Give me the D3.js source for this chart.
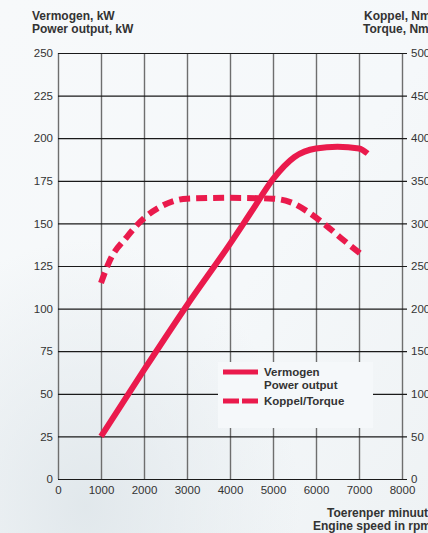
<html lang="en">
<head>
<script src="https://cdnjs.cloudflare.com/ajax/libs/d3/7.7.0/d3.min.js"></script>
<style>
html, body {
  margin: 0;
  padding: 0;
  font-family: 'Liberation Sans', Arial, sans-serif;
  background: #f4f7f9;
  overflow: hidden;
}
</style>
</head>
<body>
  <svg width="428" height="533"></svg>
</body>
<script>
// rpm / kW
const powerRpm = [1000, 2000, 3000, 4000, 4500, 5000, 5500, 6000, 6500, 7000, 7200];
const powerKw  = [25, 64, 102, 138, 157, 176, 189, 194, 195, 194, 191];

// rpm / Nm
const torqueRpm = [1000, 1200, 1600, 2000, 2400, 3000, 4000, 5000, 5400, 5800, 6200, 6600, 7100];
const torqueNm  = [230, 256, 284, 306, 320, 329, 330, 329, 325, 314, 299, 282, 262];

const rpmTicks = [0, 1000, 2000, 3000, 4000, 5000, 6000, 7000, 8000];
const kwTicks = [0, 25, 50, 75, 100, 125, 150, 175, 200, 225, 250];
const nmTicks = [0, 50, 100, 150, 200, 250, 300, 350, 400, 450, 500];

const red = '#ea1a4c';
const svg = d3.select('svg');

const plotLeft = 58, plotRight = 402, plotTop = 53, plotBottom = 479;

const x = d3.scaleLinear().domain([0, 8000]).range([plotLeft, plotRight]);
const yP = d3.scaleLinear().domain([0, 250]).range([plotBottom, plotTop]);
const yT = d3.scaleLinear().domain([0, 500]).range([plotBottom, plotTop]);

// background wash
const defs = svg.append('defs');
const grad = defs.append('linearGradient').attr('id', 'bg')
  .attr('x1', 0).attr('y1', 0).attr('x2', 1).attr('y2', 1);
grad.append('stop').attr('offset', '0%').attr('stop-color', '#f7f9fa');
grad.append('stop').attr('offset', '55%').attr('stop-color', '#f5f8fa');
grad.append('stop').attr('offset', '100%').attr('stop-color', '#eef2f4');
const glow = defs.append('radialGradient').attr('id', 'glow')
  .attr('cx', 0.2).attr('cy', 0.95).attr('r', 0.5);
glow.append('stop').attr('offset', '0%').attr('stop-color', '#dfe6ea').attr('stop-opacity', 0.9);
glow.append('stop').attr('offset', '100%').attr('stop-color', '#dfe6ea').attr('stop-opacity', 0);
svg.append('rect').attr('width', 428).attr('height', 533).attr('fill', 'url(#bg)');
svg.append('rect').attr('width', 428).attr('height', 533).attr('fill', 'url(#glow)');

const fontFam = "'Liberation Sans', Arial, sans-serif";

// vertical grid (gray)
const xAxis = svg.append('g')
  .attr('transform', `translate(0,${plotBottom})`)
  .call(d3.axisBottom(x).tickValues(rpmTicks).tickFormat(d3.format('d'))
    .tickSize(-(plotBottom - plotTop)).tickPadding(7));
xAxis.select('.domain').remove();
xAxis.selectAll('line').attr('stroke', '#6e6e6e').attr('stroke-width', 1.4);
xAxis.selectAll('text')
  .attr('fill', '#333').style('font-size', '11.5px').style('font-family', fontFam);

// horizontal grid (black) + left labels
const yAxis = svg.append('g')
  .attr('transform', `translate(${plotLeft},0)`)
  .call(d3.axisLeft(yP).tickValues(kwTicks).tickSize(-(plotRight - plotLeft + 5)).tickPadding(5));
yAxis.select('.domain').remove();
yAxis.selectAll('line').attr('stroke', '#1a1a1a').attr('stroke-width', 1.2);
yAxis.selectAll('text')
  .attr('fill', '#333').style('font-size', '11.5px').style('font-family', fontFam);

// right labels
const yAxisR = svg.append('g')
  .attr('transform', `translate(${plotRight},0)`)
  .call(d3.axisRight(yT).tickValues(nmTicks).tickSize(0).tickPadding(9));
yAxisR.select('.domain').remove();
yAxisR.selectAll('text')
  .attr('fill', '#333').style('font-size', '11.5px').style('font-family', fontFam);

// legend (masks the grid behind it)
svg.append('rect')
  .attr('x', 218).attr('y', 362).attr('width', 155).attr('height', 66)
  .attr('fill', '#f5f8fa');

const legend = svg.append('g').style('font-size', '11.5px').style('font-weight', 'bold').attr('fill', '#333');
legend.append('line')
  .attr('x1', 223).attr('x2', 258).attr('y1', 372).attr('y2', 372)
  .attr('stroke', red).attr('stroke-width', 5);
legend.append('line')
  .attr('x1', 223).attr('x2', 258).attr('y1', 401).attr('y2', 401)
  .attr('stroke', red).attr('stroke-width', 5).attr('stroke-dasharray', '16 3');
legend.append('text').attr('x', 264).attr('y', 376).text('Vermogen');
legend.append('text').attr('x', 264).attr('y', 389).text('Power output');
legend.append('text').attr('x', 264).attr('y', 405).text('Koppel/Torque');

// curves
const powerLine = d3.line()
  .x((d, i) => x(powerRpm[i]))
  .y(d => yP(d))
  .curve(d3.curveMonotoneX);
svg.append('path')
  .attr('d', powerLine(powerKw))
  .attr('fill', 'none').attr('stroke', red).attr('stroke-width', 6);

const torqueLine = d3.line()
  .x((d, i) => x(torqueRpm[i]))
  .y(d => yT(d))
  .curve(d3.curveMonotoneX);
svg.append('path')
  .attr('d', torqueLine(torqueNm))
  .attr('fill', 'none').attr('stroke', red).attr('stroke-width', 6)
  .attr('stroke-dasharray', '11 6');

// axis titles
const titles = svg.append('g').style('font-size', '12px').style('font-weight', 'bold').attr('fill', '#333');
titles.append('text').attr('x', 32).attr('y', 20).text('Vermogen, kW');
titles.append('text').attr('x', 32).attr('y', 33).text('Power output, kW');
titles.append('text').attr('x', 364).attr('y', 20).text('Koppel, Nm');
titles.append('text').attr('x', 363).attr('y', 33).text('Torque, Nm');
titles.append('text').attr('x', 327).attr('y', 517).text('Toerenper minuut');
titles.append('text').attr('x', 313).attr('y', 530).text('Engine speed in rpm');
</script>
</html>
